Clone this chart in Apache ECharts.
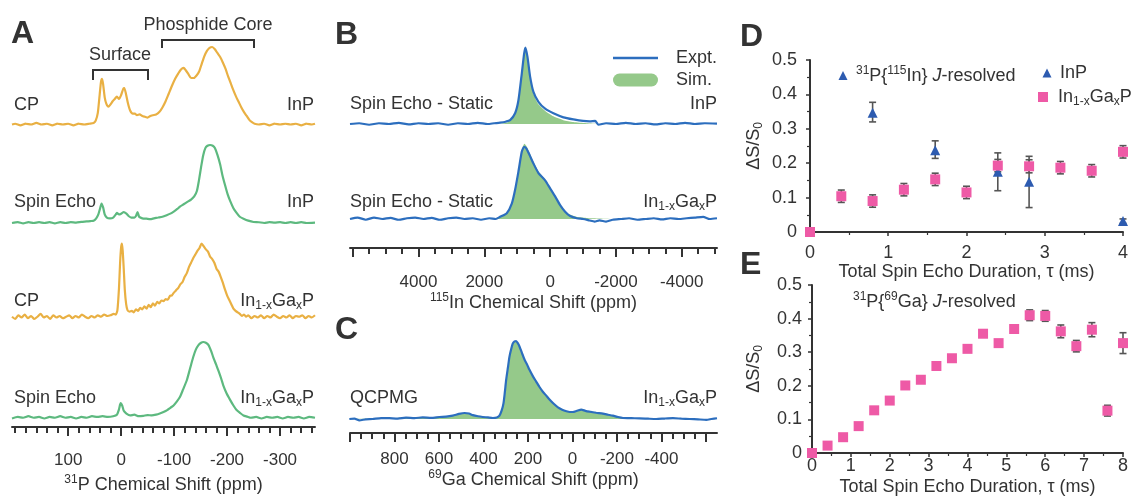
<!DOCTYPE html>
<html><head><meta charset="utf-8">
<script src="https://cdn.jsdelivr.net/npm/echarts@6/dist/echarts.min.js"></script>
<style>html,body{margin:0;padding:0;background:#fff}#c{width:1131px;height:497px}</style>
</head><body><div id="c"></div>
<script>
// ===== Panel A: 31P spectra, [ppm, normalized intensity] =====
const cpInP = [[206,0],[200,0.01],[190,-0.01],[180,0.01],[170,0],[160,0.02],[150,0],[140,0.01],[130,-0.01],[120,0.01],[110,0],[100,0.01],[90,-0.01],[80,0.01],[70,0],[60,0.01],[52,0.02],[48,0.05],[44,0.15],[41,0.35],[38,0.55],[36,0.59],[34,0.52],[31,0.35],[28,0.27],[24,0.23],[20,0.26],[16,0.3],[12,0.33],[8,0.36],[4,0.33],[0,0.38],[-4,0.46],[-6,0.47],[-9,0.4],[-13,0.27],[-17,0.18],[-22,0.14],[-26,0.14],[-30,0.12],[-35,0.13],[-40,0.11],[-45,0.1],[-50,0.09],[-55,0.11],[-60,0.12],[-66,0.13],[-72,0.16],[-78,0.22],[-84,0.3],[-90,0.4],[-96,0.5],[-102,0.59],[-108,0.66],[-113,0.71],[-118,0.73],[-122,0.7],[-127,0.65],[-132,0.6],[-137,0.6],[-142,0.63],[-147,0.68],[-152,0.78],[-157,0.88],[-162,0.95],[-167,0.99],[-172,1],[-177,0.97],[-182,0.92],[-187,0.87],[-192,0.8],[-197,0.72],[-202,0.62],[-207,0.53],[-212,0.44],[-217,0.36],[-222,0.29],[-227,0.22],[-232,0.16],[-237,0.11],[-242,0.06],[-247,0.03],[-252,0.01],[-260,0],[-270,0.01],[-280,-0.01],[-290,0.01],[-300,0],[-310,0.01],[-320,0],[-330,0.01],[-340,-0.01],[-350,0.01],[-360,0],[-366,0.01]];
const seInP = [[206,0],[195,0.01],[185,-0.005],[175,0.01],[165,0],[155,0.01],[145,0],[135,0.01],[125,-0.005],[115,0.01],[105,0],[95,0.01],[85,0.005],[75,0.015],[65,0.02],[58,0.025],[52,0.03],[47,0.06],[43,0.11],[40,0.18],[37,0.25],[34,0.2],[31,0.11],[27,0.07],[21,0.06],[15,0.07],[10,0.11],[8,0.13],[4,0.11],[0,0.12],[-5,0.14],[-10,0.12],[-14,0.09],[-19,0.07],[-25,0.07],[-28,0.09],[-31,0.14],[-34,0.08],[-40,0.06],[-48,0.055],[-55,0.05],[-62,0.06],[-70,0.07],[-78,0.08],[-86,0.1],[-93,0.12],[-100,0.15],[-106,0.18],[-111,0.21],[-118,0.24],[-125,0.27],[-132,0.3],[-138,0.34],[-143,0.41],[-147,0.55],[-151,0.72],[-155,0.87],[-159,0.96],[-163,0.99],[-168,1],[-173,0.99],[-177,0.96],[-182,0.87],[-187,0.75],[-191,0.62],[-196,0.49],[-201,0.37],[-206,0.28],[-212,0.19],[-218,0.13],[-224,0.08],[-231,0.055],[-240,0.03],[-250,0.013],[-260,0.01],[-270,0],[-280,0.01],[-290,0.005],[-300,0.01],[-310,0],[-320,0.01],[-330,0],[-340,0.01],[-350,0],[-366,0.005]];
const cpInGaP = [[206,0.01],[200,-0.02],[194,0.03],[188,0],[182,0.04],[176,-0.01],[170,0.02],[164,-0.02],[158,0.01],[152,0.05],[146,0],[140,0.02],[134,-0.02],[128,0.03],[122,0],[116,0.02],[110,-0.01],[104,0.01],[98,0.03],[92,-0.01],[86,0.02],[80,0],[74,0.04],[68,0.01],[62,-0.01],[56,0.02],[50,0],[44,0.03],[38,0.01],[32,0.04],[26,0.02],[20,0.03],[14,0.05],[10,0.04],[7,0.1],[4,0.4],[2,0.73],[0,0.95],[-1.5,1],[-3,0.9],[-5,0.65],[-7,0.37],[-9.5,0.18],[-12,0.1],[-16,0.08],[-20,0.09],[-24,0.07],[-28,0.11],[-32,0.09],[-36,0.13],[-40,0.11],[-44,0.15],[-48,0.12],[-52,0.17],[-56,0.14],[-60,0.19],[-64,0.16],[-68,0.21],[-72,0.19],[-76,0.23],[-80,0.22],[-84,0.25],[-88,0.24],[-92,0.29],[-96,0.3],[-100,0.34],[-104,0.37],[-108,0.4],[-112,0.45],[-116,0.48],[-120,0.55],[-124,0.6],[-128,0.68],[-132,0.74],[-136,0.8],[-140,0.85],[-144,0.9],[-148,0.94],[-152,1],[-156,0.96],[-160,0.92],[-164,0.89],[-168,0.82],[-172,0.79],[-176,0.74],[-180,0.66],[-184,0.62],[-188,0.55],[-192,0.47],[-196,0.38],[-200,0.3],[-204,0.24],[-208,0.18],[-212,0.12],[-216,0.09],[-220,0.07],[-224,0.05],[-228,0.02],[-232,0.04],[-236,0.01],[-240,0.03],[-246,-0.01],[-252,0.02],[-258,0],[-264,0.03],[-270,-0.01],[-276,0.02],[-282,0],[-288,0.04],[-294,0.01],[-300,-0.01],[-306,0.02],[-312,0],[-318,0.03],[-324,-0.01],[-330,0.02],[-336,0.01],[-342,0.03],[-348,-0.01],[-354,0.02],[-360,0],[-366,0.03]];
const seInGaP = [[206,0],[195,0.02],[185,0.01],[175,0.03],[165,0.01],[155,0.02],[145,0],[135,0.02],[125,0.01],[115,0.03],[105,0.01],[95,0.02],[85,0],[75,0.02],[65,0.01],[55,0.03],[45,0.02],[35,0.03],[25,0.02],[15,0.03],[8,0.05],[4,0.12],[1,0.2],[-2,0.17],[-5,0.1],[-10,0.065],[-17,0.04],[-25,0.05],[-33,0.03],[-42,0.035],[-50,0.045],[-58,0.04],[-66,0.05],[-73,0.065],[-80,0.085],[-87,0.11],[-93,0.14],[-99,0.17],[-105,0.22],[-111,0.28],[-117,0.38],[-124,0.5],[-130,0.65],[-136,0.8],[-141,0.9],[-146,0.96],[-151,0.99],[-155,1],[-160,0.99],[-165,0.96],[-170,0.88],[-174,0.8],[-179,0.71],[-184,0.62],[-189,0.52],[-193,0.43],[-199,0.33],[-206,0.24],[-212,0.17],[-218,0.11],[-225,0.07],[-231,0.04],[-238,0.025],[-245,0.01],[-255,0.02],[-265,0],[-275,0.02],[-285,0.01],[-295,0.02],[-305,0],[-315,0.02],[-325,0.01],[-335,0.02],[-345,0],[-355,0.02],[-366,0.01]];
const aTicksMinor = [200,180,160,140,120,100,80,60,40,20,0,-20,-40,-60,-80,-100,-120,-140,-160,-180,-200,-220,-240,-260,-280,-300,-320,-340,-360];
const aTicksMajor = [100,0,-100,-200,-300];

// ===== Panel B: 115In static spectra =====
const bInPExpt = [[6080,0],[5800,0.01],[5500,-0.01],[5200,0.01],[4900,0],[4600,0.015],[4300,-0.005],[4000,0.01],[3700,0],[3400,0.01],[3100,-0.01],[2800,0.01],[2500,0],[2200,0.015],[1900,0],[1700,0.01],[1520,0.017],[1350,0.03],[1216,0.05],[1064,0.14],[963,0.31],[861,0.66],[790,0.92],[750,1],[689,0.88],[608,0.62],[507,0.42],[355,0.29],[152,0.2],[-100,0.14],[-405,0.087],[-709,0.06],[-1000,0.04],[-1200,0.035],[-1368,0.04],[-1470,-0.01],[-1700,0.01],[-2000,0],[-2300,0.015],[-2600,0],[-2900,0.01],[-3200,-0.005],[-3500,0.01],[-3800,0],[-4100,0.015],[-4400,0],[-4700,0.01],[-5070,0.005]];
const bInPSim = [[6080,0],[1600,0],[1300,0.02],[1150,0.08],[1050,0.16],[960,0.33],[860,0.68],[790,0.93],[750,1],[690,0.87],[610,0.6],[510,0.4],[360,0.26],[150,0.17],[-100,0.1],[-400,0.05],[-700,0.025],[-1100,0.01],[-1500,0],[-5070,0]];
const bInGaPExpt = [[6080,0],[5850,0.02],[5600,-0.01],[5350,0.02],[5100,0],[4850,0.015],[4600,-0.01],[4350,0.01],[4100,0.02],[3850,0],[3600,0.015],[3350,-0.01],[3100,0.01],[2850,0.02],[2600,0],[2350,0.01],[2100,-0.01],[1850,0.01],[1650,0],[1520,0.03],[1317,0.08],[1165,0.21],[1064,0.4],[963,0.65],[861,0.92],[790,0.99],[730,0.97],[628,0.88],[507,0.76],[355,0.63],[152,0.53],[0,0.42],[-152,0.31],[-304,0.19],[-456,0.1],[-608,0.04],[-810,0.01],[-1000,0],[-1200,-0.02],[-1350,-0.035],[-1500,-0.02],[-1700,-0.035],[-1900,-0.01],[-2150,0],[-2400,0.01],[-2650,-0.01],[-2900,0],[-3150,0.01],[-3400,-0.005],[-3650,0.01],[-3900,0],[-4150,0.01],[-4400,0.02],[-4650,0.03],[-4850,0],[-5070,0.01]];
const bInGaPSim = [[6080,0],[1700,0],[1500,0.03],[1300,0.09],[1160,0.22],[1060,0.42],[960,0.68],[860,0.95],[780,1.03],[720,1],[620,0.9],[500,0.78],[350,0.65],[150,0.54],[0,0.43],[-150,0.32],[-300,0.2],[-450,0.11],[-600,0.06],[-800,0.03],[-1100,0.015],[-1500,0.008],[-2000,0],[-5070,0]];
const bTicksMinor = [6000,5500,5000,4500,4000,3500,3000,2500,2000,1500,1000,500,0,-500,-1000,-1500,-2000,-2500,-3000,-3500,-4000,-4500,-5000];
const bTicksMajor = [6000,4000,2000,0,-2000,-4000];
const bLabels = [4000,2000,0,-2000,-4000];

// ===== Panel C: 69Ga QCPMG =====
const cExpt = [[1003,0],[980,0.005],[958,-0.017],[930,-0.005],[898,0],[860,0.012],[823,0.01],[785,0.005],[748,0.017],[710,0.012],[673,0.02],[635,0.015],[598,0.026],[568,0.03],[538,0.043],[510,0.065],[485,0.077],[465,0.07],[448,0.05],[425,0.035],[403,0.026],[380,0.02],[358,0.013],[340,0.02],[328,0.043],[318,0.11],[310,0.2],[304,0.34],[298,0.5],[290,0.66],[283,0.8],[275,0.9],[268,0.97],[260,0.995],[253,1],[245,0.97],[238,0.93],[226,0.84],[215,0.76],[204,0.7],[193,0.63],[178,0.55],[163,0.48],[148,0.41],[133,0.35],[118,0.3],[103,0.25],[84,0.195],[65,0.15],[46,0.12],[27,0.1],[12,0.09],[-2,0.09],[-20,0.105],[-40,0.12],[-58,0.105],[-77,0.094],[-107,0.08],[-137,0.068],[-160,0.055],[-182,0.043],[-205,0.025],[-227,0.013],[-265,0.01],[-302,0.009],[-340,0.004],[-377,0],[-415,0.006],[-452,0.01],[-490,0.004],[-527,0],[-565,-0.005],[-602,-0.01],[-625,0],[-650,0.01]];
const cSim = [[1003,0],[900,0.005],[800,0.01],[700,0.015],[600,0.025],[540,0.04],[485,0.075],[440,0.05],[400,0.025],[350,0.015],[330,0.04],[318,0.11],[310,0.2],[298,0.5],[283,0.8],[268,0.97],[253,1],[238,0.93],[215,0.76],[193,0.63],[163,0.48],[133,0.35],[103,0.25],[65,0.15],[27,0.1],[-2,0.09],[-40,0.115],[-77,0.09],[-137,0.065],[-182,0.04],[-227,0.012],[-300,0.005],[-400,0],[-650,0]];
const cTicksMinor = [1000,950,900,850,800,750,700,650,600,550,500,450,400,350,300,250,200,150,100,50,0,-50,-100,-150,-200,-250,-300,-350,-400,-450,-500,-550,-600];
const cTicksMajor = [1000,800,600,400,200,0,-200,-400,-600];
const cLabels = [800,600,400,200,0,-200,-400];

// ===== Panel D: 31P{115In} J-resolved =====
const dTau = [0,0.4,0.8,1.2,1.6,2.0,2.4,2.8,3.2,3.6,4.0];
const dGaP = [0,0.104,0.09,0.123,0.153,0.115,0.193,0.191,0.187,0.178,0.233];
const dGaPErr = [0.006,0.018,0.018,0.018,0.018,0.018,0.018,0.019,0.018,0.018,0.018];
const dInPTau = [0,0.8,1.6,2.4,2.8,4.0];
const dInP = [0,0.347,0.238,0.175,0.146,0.032];
const dInPLo = [-0.005,0.32,0.214,0.12,0.071,0.025];
const dInPHi = [0.005,0.377,0.265,0.23,0.22,0.038];

// ===== Panel E: 31P{69Ga} J-resolved =====
const eTau = [0,0.4,0.8,1.2,1.6,2.0,2.4,2.8,3.2,3.6,4.0,4.4,4.8,5.2,5.6,6.0,6.4,6.8,7.2,7.6,8.0];
const eGaP = [0,0.022,0.047,0.08,0.127,0.156,0.201,0.218,0.259,0.282,0.31,0.355,0.327,0.369,0.41,0.408,0.362,0.318,0.367,0.126,0.327];
const eGaPErr = [0,0.004,0.004,0.004,0.004,0.005,0.005,0.005,0.005,0.006,0.006,0.007,0.007,0.008,0.016,0.016,0.019,0.017,0.021,0.016,0.031];

// ===== styling =====
const FONT = '"Liberation Sans", Arial, Helvetica, sans-serif';
const TXT = '#333333', AXC = '#333333';
const GOLD = '#E9B043', GREEN = '#5DB97F', BLUE = '#2C6EBE', SIM = '#95C98A', PINK = '#EE5AA6', TRI = '#2D5BB0', ERR = '#555555';

const RICH_M = {
  sup: {fontSize: 12, fontFamily: FONT, color: TXT, lineHeight: 11, verticalAlign: 'top'},
  sub: {fontSize: 12, fontFamily: FONT, color: TXT, lineHeight: 11, verticalAlign: 'bottom'}
};
const RICH_G = {
  sup: {fontSize: 12, fontFamily: FONT, fill: TXT, lineHeight: 11, verticalAlign: 'top'},
  sub: {fontSize: 12, fontFamily: FONT, fill: TXT, lineHeight: 11, verticalAlign: 'bottom'},
  i: {fontSize: 18, fontFamily: FONT, fill: TXT, fontStyle: 'italic', lineHeight: 22}
};

const grids = [
  {left: 12, top: 47, width: 303, height: 77.5},
  {left: 12, top: 145, width: 303, height: 78},
  {left: 12, top: 243.5, width: 303, height: 74},
  {left: 12, top: 342, width: 303, height: 76.5},
  {left: 12, top: 421, width: 303, height: 10.5},
  {left: 350, top: 47.5, width: 367, height: 76.5},
  {left: 350, top: 146, width: 367, height: 73},
  {left: 350, top: 238, width: 367, height: 10},
  {left: 350, top: 341, width: 367, height: 78},
  {left: 350, top: 423, width: 367, height: 10},
  {left: 810, top: 60, width: 313, height: 172},
  {left: 812, top: 285, width: 311, height: 172}
];

function hiddenX(gi, min, max) { return {type: 'value', gridIndex: gi, min, max, inverse: true, show: false}; }
function axisPair(gi, min, max, minorVals, majorVals, labelVals, lblMargin, name, nameGap) {
  const common = {type: 'value', gridIndex: gi, min, max, inverse: true, position: 'bottom', splitLine: {show: false}};
  return [
    Object.assign({}, common, {
      axisLine: {show: true, onZero: false, lineStyle: {color: AXC, width: 2}},
      axisTick: {show: true, customValues: minorVals, length: 6, lineStyle: {color: AXC, width: 2}},
      axisLabel: {show: false}
    }),
    Object.assign({}, common, {
      axisLine: {show: false, onZero: false},
      axisTick: {show: true, customValues: majorVals, length: 9, lineStyle: {color: AXC, width: 2}},
      axisLabel: {show: true, customValues: labelVals, margin: lblMargin, fontSize: 17, color: TXT, fontFamily: FONT, formatter: v => String(v)},
      name, nameLocation: 'middle', nameGap,
      nameTextStyle: {fontSize: 18, fontFamily: FONT, color: TXT, lineHeight: 22, rich: RICH_M}
    })
  ];
}

const xAxis = [
  hiddenX(0, -366, 206), hiddenX(1, -366, 206), hiddenX(2, -366, 206), hiddenX(3, -366, 206),
  ...axisPair(4, -366, 206, aTicksMinor, aTicksMajor, aTicksMajor, 25, '{sup|31}P Chemical Shift (ppm)', 47),
  hiddenX(5, -5070, 6080), hiddenX(6, -5070, 6080),
  ...axisPair(7, -5070, 6080, bTicksMinor, bTicksMajor, bLabels, 26, '{sup|115}In Chemical Shift (ppm)', 44),
  hiddenX(8, -650, 1000),
  ...axisPair(9, -650, 1000, cTicksMinor, cTicksMajor, cLabels, 18, '{sup|69}Ga Chemical Shift (ppm)', 36)
];
function jAxisX(gi, max, margin) {
  return {type: 'value', gridIndex: gi, min: 0, max, interval: 1,
    axisLine: {show: true, onZero: false, lineStyle: {color: AXC, width: 2}},
    axisTick: {show: true, length: 4, lineStyle: {color: AXC, width: 1.5}},
    minorTick: {show: true, splitNumber: 2, length: 3, lineStyle: {color: AXC, width: 1.2}},
    splitLine: {show: false}, minorSplitLine: {show: false},
    axisLabel: {margin, fontSize: 18, color: TXT, fontFamily: FONT},
    name: 'Total Spin Echo Duration, τ (ms)', nameLocation: 'middle', nameGap: 25,
    nameTextStyle: {fontSize: 18, fontFamily: FONT, color: TXT}
  };
}
xAxis.push(jAxisX(10, 4, 12));
xAxis.push(jAxisX(11, 8, 4));

const yAxis = [];
for (let i = 0; i < 10; i++) yAxis.push({type: 'value', gridIndex: i, min: 0, max: 1, show: false});
function jAxisY(gi, margin, gap) {
  return {type: 'value', gridIndex: gi, min: 0, max: 0.5, interval: 0.1,
    axisLine: {show: true, onZero: false, lineStyle: {color: AXC, width: 2}},
    axisTick: {show: true, length: 4, lineStyle: {color: AXC, width: 1.5}},
    minorTick: {show: true, splitNumber: 2, length: 3, lineStyle: {color: AXC, width: 1.2}},
    splitLine: {show: false}, minorSplitLine: {show: false},
    axisLabel: {margin, fontSize: 18, color: TXT, fontFamily: FONT},
    name: 'ΔS/S{sub|0}', nameLocation: 'middle', nameGap: gap, nameRotate: 90,
    nameTextStyle: {fontSize: 18, fontFamily: FONT, color: TXT, lineHeight: 22, rich: RICH_M}
  };
}
yAxis.push(jAxisY(10, 13, 45));
yAxis.push(jAxisY(11, 10, 47));

function specLine(xi, yi, data, color, width) {
  return {type: 'line', xAxisIndex: xi, yAxisIndex: yi, data, symbol: 'none', smooth: 0.2, clip: false, silent: true,
    lineStyle: {color, width: width || 2.2}, z: 3};
}
function simArea(xi, yi, data) {
  return {type: 'line', xAxisIndex: xi, yAxisIndex: yi, data, symbol: 'none', smooth: 0.2, clip: false, silent: true,
    lineStyle: {width: 0, color: SIM}, areaStyle: {color: SIM, opacity: 1}, z: 2};
}
function errBars(xi, yi, data, capW) {
  return {type: 'custom', xAxisIndex: xi, yAxisIndex: yi, data, silent: true, z: 2, clip: false,
    encode: {x: 0, y: [1, 2]},
    renderItem(params, api) {
      const x = api.value(0), lo = api.value(1), hi = api.value(2);
      const p1 = api.coord([x, lo]), p2 = api.coord([x, hi]);
      const s = {stroke: ERR, lineWidth: 1.6};
      return {type: 'group', children: [
        {type: 'line', shape: {x1: p1[0], y1: p1[1], x2: p2[0], y2: p2[1]}, style: s},
        {type: 'line', shape: {x1: p1[0] - capW, y1: p1[1], x2: p1[0] + capW, y2: p1[1]}, style: s},
        {type: 'line', shape: {x1: p2[0] - capW, y1: p2[1], x2: p2[0] + capW, y2: p2[1]}, style: s}
      ]};
    }
  };
}

const series = [
  specLine(0, 0, cpInP, GOLD), specLine(1, 1, seInP, GREEN),
  specLine(2, 2, cpInGaP, GOLD), specLine(3, 3, seInGaP, GREEN),
  simArea(6, 5, bInPSim), specLine(6, 5, bInPExpt, BLUE, 2.2),
  simArea(7, 6, bInGaPSim), specLine(7, 6, bInGaPExpt, BLUE, 2.2),
  simArea(10, 8, cSim), specLine(10, 8, cExpt, BLUE, 2.2),
  errBars(13, 10, dInPTau.map((t, i) => [t, dInPLo[i], dInPHi[i]]), 3.5),
  errBars(13, 10, dTau.map((t, i) => [t, dGaP[i] - dGaPErr[i], dGaP[i] + dGaPErr[i]]), 3.5),
  {type: 'scatter', xAxisIndex: 13, yAxisIndex: 10, data: dInPTau.map((t, i) => [t, dInP[i]]), symbol: 'triangle', symbolSize: 10, itemStyle: {color: TRI, opacity: 1}, z: 4, silent: true},
  {type: 'scatter', xAxisIndex: 13, yAxisIndex: 10, data: dTau.map((t, i) => [t, dGaP[i]]), symbol: 'rect', symbolSize: 10, itemStyle: {color: PINK, opacity: 1}, z: 5, silent: true},
  errBars(14, 11, eTau.map((t, i) => [t, eGaP[i] - eGaPErr[i], eGaP[i] + eGaPErr[i]]), 3.5),
  {type: 'scatter', xAxisIndex: 14, yAxisIndex: 11, data: eTau.map((t, i) => [t, eGaP[i]]), symbol: 'rect', symbolSize: 10, itemStyle: {color: PINK, opacity: 1}, z: 5, silent: true}
];

function T(x, y, text, opts) {
  return {type: 'text', x, y, silent: true, z: 10,
    style: Object.assign({text, fill: TXT, fontSize: 18, fontFamily: FONT, align: 'left', verticalAlign: 'middle', lineHeight: 22, rich: RICH_G}, opts || {})};
}
const INGAP = 'In{sub|1-x}Ga{sub|x}P';
const graphic = [
  T(11, 34, 'A', {fontSize: 32, fontWeight: 'bold', lineHeight: 36}),
  T(335, 35, 'B', {fontSize: 32, fontWeight: 'bold', lineHeight: 36}),
  T(335, 330, 'C', {fontSize: 32, fontWeight: 'bold', lineHeight: 36}),
  T(740, 37, 'D', {fontSize: 32, fontWeight: 'bold', lineHeight: 36}),
  T(740, 265, 'E', {fontSize: 32, fontWeight: 'bold', lineHeight: 36}),
  T(208, 25, 'Phosphide Core', {align: 'center'}),
  T(120, 55, 'Surface', {align: 'center'}),
  {type: 'polyline', silent: true, shape: {points: [[93, 80], [93, 70], [148, 70], [148, 80]]}, style: {stroke: TXT, lineWidth: 2, fill: null}},
  {type: 'polyline', silent: true, shape: {points: [[162, 48], [162, 40], [254, 40], [254, 48]]}, style: {stroke: TXT, lineWidth: 2, fill: null}},
  T(14, 105, 'CP'), T(314, 105, 'InP', {align: 'right'}),
  T(14, 202, 'Spin Echo'), T(314, 202, 'InP', {align: 'right'}),
  T(14, 301, 'CP'), T(314, 301, INGAP, {align: 'right'}),
  T(14, 398, 'Spin Echo'), T(314, 398, INGAP, {align: 'right'}),
  T(350, 104, 'Spin Echo - Static'), T(717, 104, 'InP', {align: 'right'}),
  T(350, 202, 'Spin Echo - Static'), T(717, 202, INGAP, {align: 'right'}),
  {type: 'line', silent: true, shape: {x1: 613, y1: 58, x2: 658, y2: 58}, style: {stroke: BLUE, lineWidth: 2.5}},
  {type: 'rect', silent: true, shape: {x: 613, y: 73.5, width: 45, height: 13, r: 6.5}, style: {fill: SIM}},
  T(676, 58, 'Expt.'), T(676, 80, 'Sim.'),
  T(350, 398, 'QCPMG'), T(717, 398, INGAP, {align: 'right'}),
  {type: 'polygon', silent: true, shape: {points: [[843, 71], [847.5, 80], [838.5, 80]]}, style: {fill: TRI}},
  T(856, 76, '{sup|31}P{{sup|115}In} {i|J}-resolved'),
  {type: 'polygon', silent: true, shape: {points: [[1047, 68.5], [1051.5, 77.5], [1042.5, 77.5]]}, style: {fill: TRI}},
  T(1060, 73, 'InP'),
  {type: 'rect', silent: true, shape: {x: 1038, y: 92, width: 10, height: 10}, style: {fill: PINK}},
  T(1058, 97, INGAP),
  T(853, 302, '{sup|31}P{{sup|69}Ga} {i|J}-resolved')
];

const chart = echarts.init(document.getElementById('c'), null, {renderer: 'canvas'});
chart.setOption({
  animation: false,
  backgroundColor: '#ffffff',
  textStyle: {fontFamily: FONT},
  grid: grids,
  xAxis, yAxis, series, graphic
});
</script></body></html>
